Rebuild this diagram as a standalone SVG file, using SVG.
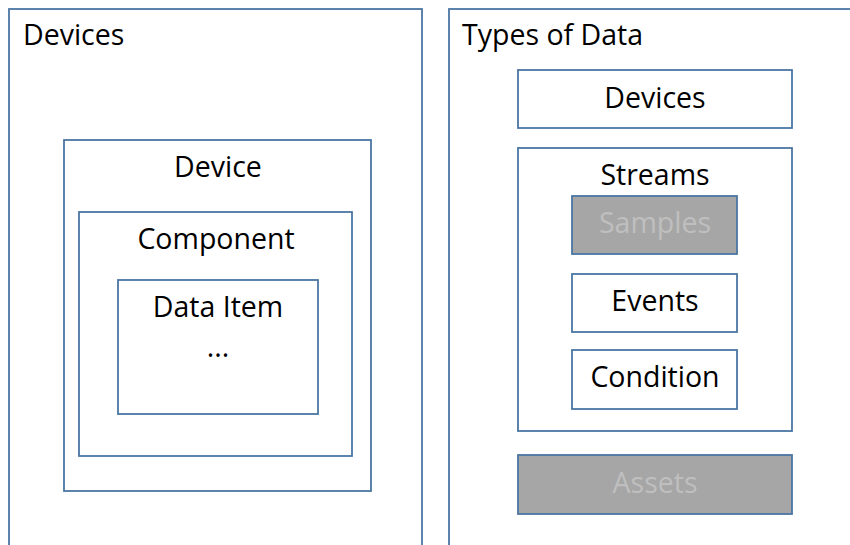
<svg xmlns="http://www.w3.org/2000/svg" width="850" height="545" viewBox="0 0 850 545">
<style>
.b{fill:#ffffff;stroke:#4a76a3;stroke-width:1.8}
.g{fill:#a6a6a6;stroke:#4a76a3;stroke-width:1.8}
text{font-family:"Open Sans","Liberation Sans",sans-serif;font-size:28.5px;fill:#000000}
.c{text-anchor:middle}
.l{fill:#bfbfbf}
</style>
<rect width="850" height="545" fill="#ffffff"/>
<g id="devices-panel">
<rect class="b" x="9" y="9" width="413" height="560"/>
<text x="23" y="45">Devices</text>
</g>
<g id="device">
<rect class="b" x="64" y="140" width="307" height="351"/>
<text class="c" x="218" y="177">Device</text>
</g>
<g id="component">
<rect class="b" x="79" y="212" width="273" height="244"/>
<text class="c" x="216" y="249">Component</text>
</g>
<g id="data-item">
<rect class="b" x="118" y="280" width="200" height="134"/>
<text class="c" x="218" y="317">Data Item</text>
<text class="c" x="218" y="357">...</text>
</g>
<g id="types-panel">
<rect class="b" x="449" y="9" width="420" height="560"/>
<text x="462" y="45">Types of Data</text>
</g>
<g id="devices-type">
<rect class="b" x="518" y="70" width="274" height="58"/>
<text class="c" x="655" y="108">Devices</text>
</g>
<g id="streams">
<rect class="b" x="518" y="148" width="274" height="283"/>
<text class="c" x="655" y="185">Streams</text>
</g>
<g id="samples">
<rect class="g" x="572" y="196" width="165" height="58"/>
<text class="c l" x="655" y="233">Samples</text>
</g>
<g id="events">
<rect class="b" x="572" y="274" width="165" height="58"/>
<text class="c" x="655" y="311">Events</text>
</g>
<g id="condition">
<rect class="b" x="572" y="350" width="165" height="59"/>
<text class="c" x="655" y="387">Condition</text>
</g>
<g id="assets">
<rect class="g" x="518" y="455" width="274" height="59"/>
<text class="c l" x="655" y="493">Assets</text>
</g>
<g id="connectors"></g>
</svg>
